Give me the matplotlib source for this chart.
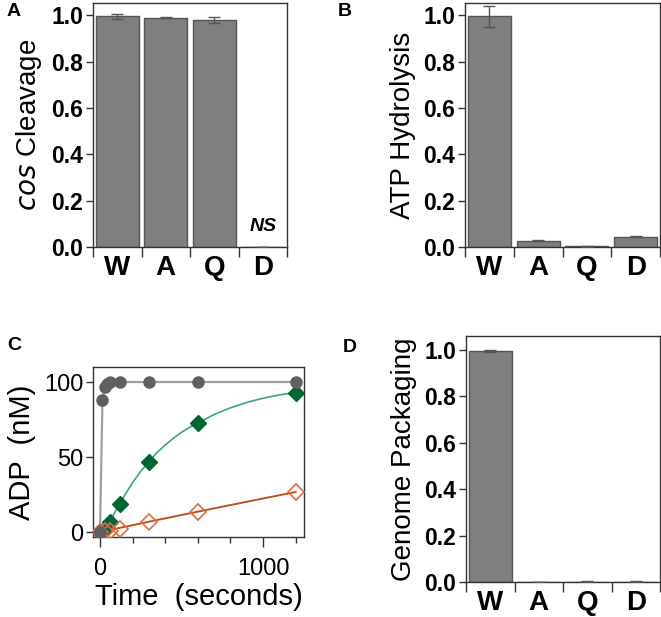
import matplotlib
matplotlib.use("Agg")
import matplotlib.pyplot as plt
import numpy as np

plt.rcParams['font.family'] = ['Liberation Sans', 'DejaVu Sans']

# ---------------- data ----------------
categories = ["W", "A", "Q", "D"]

cos_cleavage = [0.995, 0.99, 0.978, 0.0]
cos_cleavage_err = [0.010, 0.003, 0.013, 0.0]

atp_hydrolysis = [0.995, 0.028, 0.003, 0.045]
atp_hydrolysis_err = [0.047, 0.003, 0.002, 0.003]

genome_packaging = [0.995, 0.0, 0.002, 0.002]
genome_packaging_err = [0.003, 0.0, 0.002, 0.002]

# Panel C time course (seconds, nM ADP)
grey_t = [0, 15, 30, 45, 60, 120, 300, 600, 1200]
grey_y = [0, 88, 97, 99, 100, 100, 100, 100, 100]
grey_err = [0, 3, 1, 0.5, 0.5, 0.5, 0.5, 0.5, 0.5]

green_t = [0, 30, 60, 120, 300, 600, 1200]
green_y = [0, 2, 7, 19, 47, 72.5, 92.5]

green_fit_t = [0, 30, 60, 90, 120, 160, 200, 250, 300, 350, 400, 450, 500,
               550, 600, 700, 800, 900, 1000, 1100, 1200]
green_fit_y = [0, 2, 7, 13, 19, 26, 33, 40.5, 47, 53, 58, 62.5, 66.5,
               69.8, 72.8, 78.3, 82.8, 86.4, 89.2, 91.4, 93.0]

orange_t = [0, 30, 60, 120, 300, 600, 1200]
orange_y = [0, 0.5, 0.8, 2, 7, 13.5, 26.8]

orange_fit_t = [0, 300, 600, 900, 1200]
orange_fit_y = [0, 6.9, 13.6, 20.2, 26.7]

W, H = 661, 617
fig = plt.figure(figsize=(W / 100, H / 100), dpi=100)

bar_face = "#7f7f7f"
bar_edge = "#555555"


def ax_rect(l, r, t, b):
    return [l / W, 1 - b / H, (r - l) / W, (b - t) / H]


def bar_panel(rect, values, errs, ylabel, ytop):
    ax = fig.add_axes(rect)
    x = np.arange(len(categories))
    ax.bar(x, values, width=0.88, color=bar_face, edgecolor=bar_edge,
           linewidth=1.0, zorder=2)
    ax.errorbar(x, values, yerr=errs, fmt="none", ecolor="#555555",
                elinewidth=1.0, capsize=4, capthick=1.0, zorder=3)
    ax.set_xlim(-0.5, 3.5)
    ax.set_ylim(0, ytop)
    ax.set_yticks([0.0, 0.2, 0.4, 0.6, 0.8, 1.0])
    ax.set_yticklabels(["0.0", "0.2", "0.4", "0.6", "0.8", "1.0"],
                       fontsize=16.5, fontweight="bold")
    ax.set_xticks(np.arange(-0.5, 4.0, 1.0))
    ax.set_xticklabels([])
    ax.set_xticks(x, minor=True)
    ax.set_xticklabels(categories, minor=True, fontsize=20, fontweight="bold")
    ax.tick_params(axis="x", which="major", direction="out", length=7,
                   width=1.0, color="#333333")
    ax.tick_params(axis="x", which="minor", length=0, pad=6)
    ax.tick_params(axis="y", direction="out", length=5, width=1.0,
                   color="#333333", pad=2)
    for s in ax.spines.values():
        s.set_color("#333333")
        s.set_linewidth(1.0)
    ax.set_ylabel(ylabel, fontsize=20, labelpad=5)
    return ax


# Panel A
axA = bar_panel(ax_rect(93, 287, 3, 247), cos_cleavage, cos_cleavage_err,
                r"$\it{cos}$ Cleavage", 1.053)
axA.text(3, 0.05, "NS", ha="center", va="bottom", fontsize=14,
         fontweight="bold", style="italic")

# Panel B
axB = bar_panel(ax_rect(465, 660, 3, 247), atp_hydrolysis, atp_hydrolysis_err,
                "ATP Hydrolysis", 1.053)

# Panel D
axD = bar_panel(ax_rect(466, 660, 336, 582), genome_packaging,
                genome_packaging_err, "Genome Packaging", 1.06)

# Panel C
axC = fig.add_axes(ax_rect(93, 304, 367, 537))
axC.plot(grey_t, grey_y, color="#a0a0a0", linewidth=1.6, zorder=2)
axC.errorbar(grey_t, grey_y, yerr=grey_err, fmt="o", color="#606060",
             markersize=8, ecolor="#606060", capsize=2, elinewidth=1, zorder=4)
axC.plot(green_fit_t, green_fit_y, color="#3aa878", linewidth=1.2, zorder=2)
axC.plot(green_t, green_y, "D", color="#006633", markersize=8, zorder=4,
         linestyle="none")
axC.plot(orange_fit_t, orange_fit_y, color="#c0501f", linewidth=1.4, zorder=2)
axC.plot(orange_t, orange_y, "D", markerfacecolor="none",
         markeredgecolor="#e06a45", markeredgewidth=1.2, markersize=8,
         linestyle="none", zorder=4)
axC.set_xlim(-43, 1251)
axC.set_ylim(-3.3, 110)
axC.set_xticks([0, 1000])
axC.set_xticklabels(["0", "1000"], fontsize=17)
axC.set_xticks(np.arange(200, 1300, 200), minor=True)
axC.set_yticks([0, 50, 100])
axC.set_yticklabels(["0", "50", "100"], fontsize=17)
axC.tick_params(axis="x", which="major", direction="out", length=7, width=1.0,
                color="#333333", pad=8)
axC.tick_params(axis="x", which="minor", direction="out", length=4, width=1.0,
                color="#333333")
axC.tick_params(axis="y", direction="out", length=5, width=1.0,
                color="#333333", pad=2)
for s in axC.spines.values():
    s.set_color("#333333")
    s.set_linewidth(1.0)
axC.set_xlabel("Time  (seconds)", fontsize=21, labelpad=2)
axC.set_ylabel("ADP  (nM)", fontsize=21, labelpad=6)

# Panel letters
for lbl, (px, py) in {"A": (14, 12), "B": (345, 12), "C": (14, 345),
                      "D": (350, 348)}.items():
    fig.text(px / W, 1 - py / H, lbl, fontsize=14, fontweight="bold",
             ha="center", va="center")

fig.savefig("out.png", dpi=100)
